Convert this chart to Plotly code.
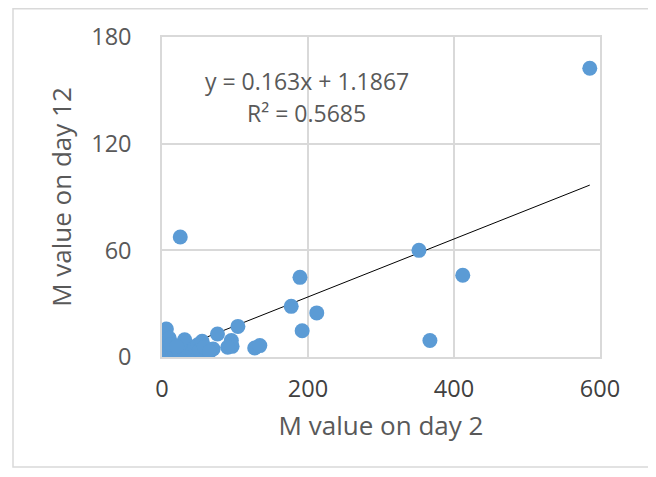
import plotly.graph_objects as go

# Data
day2 = [586, 25, 352, 412, 189, 177, 212, 192, 367, 104, 76, 95, 96, 127, 134,
        70, 61, 6, 6, 4, 5, 8, 10, 15, 17, 22, 24, 29, 31, 36, 42, 45, 49, 52,
        55, 58, 65, 90, 12, 20]
day12 = [162.4, 67.5, 60.0, 46.0, 44.8, 28.5, 24.8, 14.8, 9.3, 17.2, 12.9, 9.3,
         6.0, 5.1, 6.4, 4.5, 1.3, 15.7, 8.8, 4.1, 6.5, 2.5, 10.5, 1.3, 3.1, 5.0,
         2.2, 7.5, 9.7, 3.1, 3.1, 5.5, 6.9, 4.0, 8.8, 5.5, 3.0, 5.5, 7.0, 6.0]

slope = 0.163
intercept = 1.1867
r2 = 0.5685

x_ticks = [0, 200, 400, 600]
y_ticks = [0, 60, 120, 180]

FONT = "Open Sans"
GREY = "#595959"
GRID = "#d9d9d9"

trend_x = [min(day2), max(day2)]
trend_y = [slope * v + intercept for v in trend_x]

fig = go.Figure()
fig.add_trace(go.Scatter(
    x=trend_x, y=trend_y, mode="lines",
    line=dict(color="black", width=1), hoverinfo="skip", showlegend=False))
fig.add_trace(go.Scatter(
    x=day2, y=day12, mode="markers",
    marker=dict(color="#5b9bd5", size=15, line=dict(width=0)),
    showlegend=False))

fig.add_annotation(x=198, y=155.4, xref="x", yref="y",
                   text=f"y = {slope}x + {intercept}", showarrow=False,
                   font=dict(family=FONT, size=23, color=GREY))
fig.add_annotation(x=198, y=137.4, xref="x", yref="y",
                   text=f"R² = {r2}", showarrow=False,
                   font=dict(family=FONT, size=23, color=GREY))

# outer chart border
fig.add_shape(type="rect", xref="paper", yref="paper",
              x0=-149 / 438, x1=490 / 438, y0=-110 / 320, y1=348.3 / 320,
              line=dict(color=GRID, width=1.5), fillcolor="rgba(0,0,0,0)")

fig.update_layout(
    width=656, height=477,
    margin=dict(l=154, r=64, t=29, b=128),
    paper_bgcolor="white", plot_bgcolor="white",
    font=dict(family=FONT, color=GREY),
    xaxis=dict(range=[0, 600], tickvals=x_ticks, showgrid=True, gridcolor=GRID,
               gridwidth=1.5, zeroline=False, showline=True, linecolor=GRID,
               linewidth=1.5, mirror=True, ticks="",
               tickfont=dict(size=23.5, color="#404040"), ticklabelstandoff=10,
               title=dict(text="M value on day 2", font=dict(size=26, color=GREY),
                          standoff=14)),
    yaxis=dict(range=[0, 180], tickvals=y_ticks, showgrid=True, gridcolor=GRID,
               gridwidth=1.5, zeroline=False, showline=True, linecolor=GRID,
               linewidth=1.5, mirror=True, ticks="",
               tickfont=dict(size=23.5, color=GREY), ticklabelstandoff=24,
               title=dict(text="M value on day 12", font=dict(size=26, color=GREY),
                          standoff=12)),
)

fig.write_html("out.html")
